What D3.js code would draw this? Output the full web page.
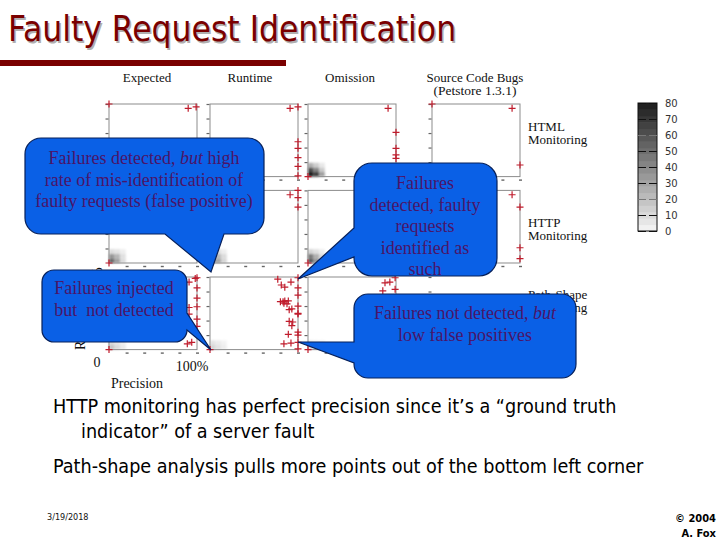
<!DOCTYPE html>
<html>
<head>
<meta charset="utf-8">
<script src="https://cdn.jsdelivr.net/npm/d3@7"></script>
<style>
    body { margin: 0; background: #fff; }
    text { white-space: pre; }
    .slide-text { font-family: "DejaVu Sans Condensed", "DejaVu Sans", sans-serif; font-stretch: condensed; }
    .figure-text { font-family: "Liberation Serif", serif; fill: #111; }
</style>
</head>
<body>
<div id="chart"></div>
<script>
// Column and row names of the small multiples
const columns = ['Expected', 'Runtime', 'Omission', 'Source Code Bugs'];
const rows = ['HTML', 'HTTP', 'Path-Shape'];

// Outliers, [precision, recall]
const expectedHtml = [[0, 1], [0.90, 0.94], [0.99, 0.96]];
const runtimeHtml = [[0.91, 0.94], [1, 0.96], [1, 0.48], [1, 0.39], [1, 0.26], [1, 0.14], [1, 0.01]];
const omissionHtml = [[0, 0], [0.91, 0.94], [1, 0.61], [1, 0.39], [1, 0.30], [1, 0.25]];
const sourceHtml = [[0, 1], [0.91, 0.94], [1, 0.16]];
const expectedHttp = [[0, 0]];
const runtimeHttp = [[0.91, 0.94], [1, 1], [1, 0.90], [1, 0.77], [0, 0]];
const omissionHttp = [[0, 0]];
const sourceHttp = [[0.91, 0.94], [1, 0.77], [1, 0.21], [1, 0.06]];
const expectedPath = [[0, 0], [1, 0.99], [0.98, 0.98], [0.91, 0.93], [1, 0.85], [1, 0.71], [1, 0.59], [0.91, 0.58],
    [0.91, 0.49], [1, 0.42], [1, 0.32], [0.94, 0.10], [0.89, 0.08]];
const runtimePath = [[0, 0], [0.77, 0.97], [0.81, 0.89], [0.85, 0.86], [0.92, 0.93], [1, 0.99], [1, 0.85], [1, 0.75],
    [0.80, 0.66], [0.83, 0.66], [0.84, 0.64], [0.85, 0.67], [0.89, 0.67], [0.875, 0.63], [0.90, 0.55], [0.93, 0.56],
    [1, 0.60], [1, 0.50], [1, 0.49], [0.90, 0.39], [0.94, 0.38], [0.93, 0.33], [1, 0.24], [1, 0.20], [0.89, 0.21],
    [0.84, 0.08], [0.92, 0.09], [1, 0.10], [1, 0.01]];
const omissionPath = [[0, 0], [0.875, 0.92], [0.93, 0.93], [0.99, 0.99], [0.85, 0.81], [0.99, 0.83]];

// Density near the origin (bottom row first), in the units of the colour bar
const omissionHtmlDensity = [[80, 68, 32], [62, 42, 16], [26, 15, 5]];
const expectedHttpDensity = [[52, 32, 10], [36, 24, 8], [10, 7, 3]];
const runtimeHttpDensity = [[40, 30, 12], [30, 22, 10], [10, 8, 3]];
const omissionHttpDensity = [[58, 36, 15], [46, 26, 10], [13, 8, 3]];
const expectedPathDensity = [[18, 10, 4], [10, 6, 2]];
const runtimePathDensity = [[12, 7, 3], [7, 4, 1]];
const omissionPathDensity = [[10, 5, 2], [5, 2, 1]];

const legendTicks = [0, 10, 20, 30, 40, 50, 60, 70, 80];
const legendLevels = [0, 4, 8, 12, 16, 20, 24, 28, 32, 36, 40, 44, 48, 52, 56, 60, 64, 68, 72, 76];
const axisTicks = [0.2, 0.4, 0.6, 0.8, 1];

const panels = [
    { col: 0, row: 0, points: expectedHtml, density: [] },
    { col: 1, row: 0, points: runtimeHtml, density: [] },
    { col: 2, row: 0, points: omissionHtml, density: omissionHtmlDensity },
    { col: 3, row: 0, points: sourceHtml, density: [] },
    { col: 0, row: 1, points: expectedHttp, density: expectedHttpDensity },
    { col: 1, row: 1, points: runtimeHttp, density: runtimeHttpDensity },
    { col: 2, row: 1, points: omissionHttp, density: omissionHttpDensity },
    { col: 3, row: 1, points: sourceHttp, density: [] },
    { col: 0, row: 2, points: expectedPath, density: expectedPathDensity },
    { col: 1, row: 2, points: runtimePath, density: runtimePathDensity },
    { col: 2, row: 2, points: omissionPath, density: omissionPathDensity },
    { col: 3, row: 2, points: [], density: [], noFrame: true }
];

const width = 720;
const height = 540;
const panelWidth = 88;
const panelHeight = 72.6;
const colLeft = [109, 210, 308, 432];
const rowTop = [104, 190.4, 277];
const cellWidth = 5.6;
const cellHeight = 4.6;

const darkRed = '#7a0000';
const calloutBlue = '#0a60e6';
const calloutText = '#4a1468';

const svg = d3.select('#chart').append('svg')
    .attr('width', width)
    .attr('height', height);

const blur = svg.append('defs').append('filter')
    .attr('id', 'soft')
    .attr('x', '-30%').attr('y', '-30%')
    .attr('width', '160%').attr('height', '160%');
blur.append('feGaussianBlur').attr('stdDeviation', 1.3);

// Title and rule
const titleText = 'Faulty Request Identification';
svg.append('text')
    .attr('class', 'slide-text')
    .attr('x', 9.5).attr('y', 42.5)
    .attr('font-size', 35)
    .attr('fill', '#b0b0b0')
    .text(titleText);
svg.append('text')
    .attr('class', 'slide-text')
    .attr('x', 8).attr('y', 41)
    .attr('font-size', 35)
    .attr('fill', darkRed)
    .text(titleText);
svg.append('rect')
    .attr('x', 0).attr('y', 60)
    .attr('width', 286).attr('height', 6)
    .attr('fill', darkRed);

const color = d3.scaleLinear().domain([0, 80]).range(['#f6f6f6', '#1c1c1c']);
const xScale = d3.scaleLinear().domain([0, 1]).range([0, panelWidth]);
const yScale = d3.scaleLinear().domain([0, 1]).range([panelHeight, 0]);

// Small multiples
panels.forEach(panel => {
    const g = svg.append('g')
        .attr('transform', `translate(${colLeft[panel.col]}, ${rowTop[panel.row]})`);

    g.append('g')
        .attr('filter', 'url(#soft)')
        .selectAll('g')
        .data(panel.density)
        .join('g')
        .attr('transform', (_, i) => `translate(0, ${panelHeight - (i + 1) * cellHeight})`)
        .selectAll('rect')
        .data(d => d)
        .join('rect')
        .attr('x', (_, i) => i * cellWidth)
        .attr('width', cellWidth)
        .attr('height', cellHeight)
        .attr('fill', d => color(d));

    if (!panel.noFrame) {
        g.append('rect')
            .attr('width', panelWidth)
            .attr('height', panelHeight)
            .attr('fill', 'none')
            .attr('stroke', '#8c8c8c');

        // The tick labels are too small to read, they show up as short dashes
        const xAxisG = g.append('g')
            .attr('transform', `translate(0, ${panelHeight})`)
            .call(d3.axisBottom(xScale).tickValues(axisTicks).tickFormat('').tickSize(0));
        xAxisG.select('.domain').remove();
        xAxisG.selectAll('.tick line')
            .attr('x1', -1.5).attr('x2', 1.5)
            .attr('y1', 3.5).attr('y2', 3.5)
            .attr('stroke', '#666')
            .attr('stroke-width', 1.4);
    }

    const yAxisG = g.append('g')
        .call(d3.axisLeft(yScale).tickValues(axisTicks).tickFormat('').tickSize(0));
    yAxisG.select('.domain').remove();
    yAxisG.selectAll('.tick line')
        .attr('x1', -3.5).attr('x2', -0.5)
        .attr('stroke', '#666')
        .attr('stroke-width', 1.2);

    g.selectAll('.outlier')
        .data(panel.points)
        .join('path')
        .attr('class', 'outlier')
        .attr('transform', d => `translate(${xScale(d[0])}, ${yScale(d[1])})`)
        .attr('d', 'M-3.5,0H3.5M0,-3.5V3.5')
        .attr('fill', 'none')
        .attr('stroke', '#c01c2c')
        .attr('stroke-width', 1.2);
});

// Figure labels
const headerX = [147, 250, 350, 475];
svg.selectAll('.col-label')
    .data(columns)
    .join('text')
    .attr('class', 'col-label figure-text')
    .attr('x', (_, i) => headerX[i])
    .attr('y', 82)
    .attr('text-anchor', 'middle')
    .attr('font-size', 13)
    .text(d => d);
svg.append('text')
    .attr('class', 'figure-text')
    .attr('x', 475).attr('y', 95)
    .attr('text-anchor', 'middle')
    .attr('font-size', 13.5)
    .text('(Petstore 1.3.1)');

const rowLabelY = [131, 227, 299];
rows.forEach((name, i) => {
    svg.append('text')
        .attr('class', 'figure-text')
        .attr('x', 528).attr('y', rowLabelY[i])
        .attr('font-size', 13)
        .text(name);
    svg.append('text')
        .attr('class', 'figure-text')
        .attr('x', 528).attr('y', rowLabelY[i] + 13)
        .attr('font-size', 13)
        .text('Monitoring');
});

svg.append('text').attr('class', 'figure-text').attr('x', 97).attr('y', 367)
    .attr('text-anchor', 'middle').attr('font-size', 14).text('0');
svg.append('text').attr('class', 'figure-text').attr('x', 192).attr('y', 371)
    .attr('text-anchor', 'middle').attr('font-size', 14).text('100%');
svg.append('text').attr('class', 'figure-text').attr('x', 137).attr('y', 388)
    .attr('text-anchor', 'middle').attr('font-size', 14).text('Precision');
svg.append('text').attr('class', 'figure-text')
    .attr('transform', 'translate(85, 350) rotate(-90)')
    .attr('font-size', 14).text('Recall');
svg.append('text').attr('class', 'figure-text')
    .attr('transform', 'translate(102, 300) rotate(-90)')
    .attr('font-size', 14).text('100%');

// Colour bar
const legendX = 638;
const legendWidth = 19;
const legendScale = d3.scaleLinear().domain([0, 80]).range([231, 103]);
const legend = svg.append('g');
legend.selectAll('rect')
    .data(legendLevels)
    .join('rect')
    .attr('x', legendX)
    .attr('y', d => legendScale(d + 4))
    .attr('width', legendWidth)
    .attr('height', d => legendScale(d) - legendScale(d + 4) + 0.5)
    .attr('fill', d => color(d + 2));
legend.append('rect')
    .attr('x', legendX).attr('y', legendScale(80))
    .attr('width', legendWidth)
    .attr('height', legendScale(0) - legendScale(80))
    .attr('fill', 'none')
    .attr('stroke', '#111');
const legendAxisG = legend.append('g')
    .attr('transform', `translate(${legendX + legendWidth}, 0)`)
    .call(d3.axisRight(legendScale).tickValues(legendTicks).tickSize(0).tickPadding(8));
legendAxisG.select('.domain').remove();
legendAxisG.selectAll('.tick line')
    .attr('x1', -legendWidth).attr('x2', 0)
    .attr('stroke', d => (d === 20 || d === 60) ? '#777' : '#111')
    .attr('stroke-dasharray', '8 3 8');
legendAxisG.selectAll('.tick text')
    .attr('font-family', '"DejaVu Sans", sans-serif')
    .attr('font-size', 10)
    .attr('fill', '#333');

// Callouts are drawn clockwise from the top left corner, the tail is cut into one side
function calloutPath(box, tail) {
    const { x0, y0, x1, y1, r } = box;
    const p = d3.path();
    p.moveTo(x0 + r, y0);
    p.lineTo(x1 - r, y0);
    p.arcTo(x1, y0, x1, y0 + r, r);
    if (tail.side === 'right') {
        p.lineTo(x1, tail.from);
        p.lineTo(tail.tip[0], tail.tip[1]);
        p.lineTo(x1, tail.to);
    }
    p.lineTo(x1, y1 - r);
    p.arcTo(x1, y1, x1 - r, y1, r);
    if (tail.side === 'bottom') {
        p.lineTo(tail.from, y1);
        p.lineTo(tail.tip[0], tail.tip[1]);
        p.lineTo(tail.to, y1);
    }
    p.lineTo(x0 + r, y1);
    p.arcTo(x0, y1, x0, y1 - r, r);
    if (tail.side === 'left') {
        p.lineTo(x0, tail.from);
        p.lineTo(tail.tip[0], tail.tip[1]);
        p.lineTo(x0, tail.to);
    }
    p.lineTo(x0, y0 + r);
    p.arcTo(x0, y0, x0 + r, y0, r);
    p.closePath();
    return p.toString();
}

const callouts = [
    {
        box: { x0: 25, y0: 138, x1: 264, y1: 234, r: 16 },
        tail: { side: 'bottom', from: 224, tip: [211, 272], to: 165 },
        textX: 144, textY: 164,
        lines: [['Failures detected, ', ['but'], ' high'], ['rate of mis-identification of'], ['faulty requests (false positive)']]
    },
    {
        box: { x0: 42, y0: 270, x1: 187, y1: 342, r: 12 },
        tail: { side: 'right', from: 313, tip: [211, 350], to: 330 },
        textX: 114, textY: 294,
        lines: [['Failures injected'], ['but  not detected']]
    },
    {
        box: { x0: 354, y0: 163, x1: 497, y1: 276, r: 18 },
        tail: { side: 'left', from: 257, tip: [298, 279], to: 228 },
        textX: 425, textY: 189,
        lines: [['Failures'], ['detected, faulty'], ['requests'], ['identified as'], ['such']]
    },
    {
        box: { x0: 354, y0: 294, x1: 576, y1: 378, r: 14 },
        tail: { side: 'left', from: 363, tip: [298, 342], to: 342 },
        textX: 465, textY: 319,
        lines: [['Failures not detected, ', ['but']], ['low false positives']]
    }
];

callouts.forEach(callout => {
    svg.append('path')
        .attr('d', calloutPath(callout.box, callout.tail))
        .attr('fill', calloutBlue)
        .attr('stroke', '#06205a')
        .attr('stroke-width', 1.2);
    callout.lines.forEach((parts, i) => {
        const line = svg.append('text')
            .attr('x', callout.textX)
            .attr('y', callout.textY + i * 21.6)
            .attr('text-anchor', 'middle')
            .attr('font-family', '"Liberation Serif", serif')
            .attr('font-size', 18)
            .attr('fill', calloutText);
        parts.forEach(part => {
            // a nested array marks the italic words
            const isItalic = Array.isArray(part);
            line.append('tspan')
                .attr('font-style', isItalic ? 'italic' : 'normal')
                .text(isItalic ? part[0] : part);
        });
    });
});

// Slide text
const bodyLines = [
    { x: 53, y: 413, text: 'HTTP monitoring has perfect precision since it\u2019s a \u201cground truth' },
    { x: 81, y: 438, text: 'indicator\u201d of a server fault' },
    { x: 53, y: 473, text: 'Path-shape analysis pulls more points out of the bottom left corner' }
];
svg.selectAll('.body-line')
    .data(bodyLines)
    .join('text')
    .attr('class', 'body-line slide-text')
    .attr('x', d => d.x)
    .attr('y', d => d.y)
    .attr('font-size', 19.6)
    .attr('fill', '#000')
    .text(d => d.text);

svg.append('text')
    .attr('class', 'slide-text')
    .attr('x', 47).attr('y', 520)
    .attr('font-size', 9)
    .attr('fill', '#111')
    .text('3/19/2018');
svg.append('text')
    .attr('class', 'slide-text')
    .attr('x', 716).attr('y', 522)
    .attr('text-anchor', 'end')
    .attr('font-size', 11)
    .attr('font-weight', 'bold')
    .text('\u00a9 2004');
svg.append('text')
    .attr('class', 'slide-text')
    .attr('x', 716).attr('y', 537)
    .attr('text-anchor', 'end')
    .attr('font-size', 11)
    .attr('font-weight', 'bold')
    .text('A. Fox');
</script>
</body>
</html>
